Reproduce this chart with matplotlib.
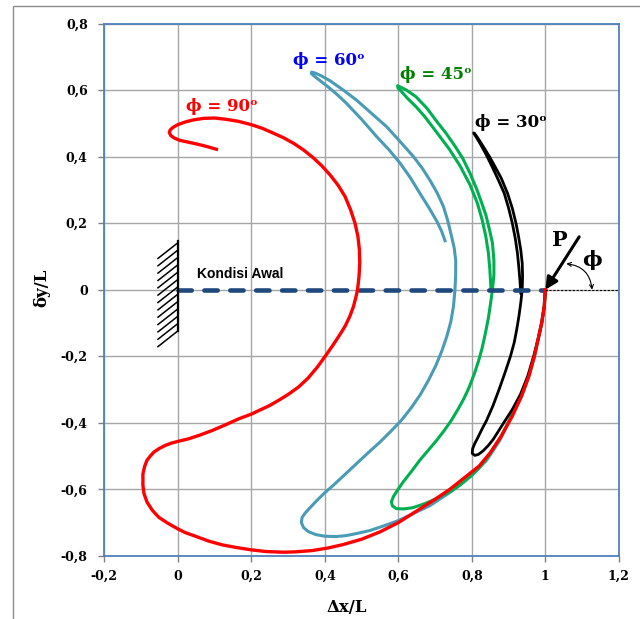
import numpy as np
import matplotlib.pyplot as plt
from matplotlib.patches import Rectangle

# Dados (posição da ponta da viga, dx/L e dy/L)

x_90 = [1.000, 0.997, 0.990, 0.980, 0.970, 0.955, 0.935, 0.910, 0.880, 0.850, 0.820, 0.780,
        0.740, 0.700, 0.650, 0.600, 0.550, 0.500, 0.450, 0.410, 0.366, 0.320, 0.285, 0.240,
        0.200, 0.160, 0.121, 0.085, 0.048, 0.020, 0.000, -0.027, -0.052, -0.070, -0.084, -0.092,
        -0.095, -0.095, -0.090, -0.084, -0.075, -0.065, -0.050, -0.034, -0.017, 0.000, 0.030, 0.060,
        0.094, 0.130, 0.166, 0.200, 0.221, 0.250, 0.275, 0.300, 0.329, 0.355, 0.380, 0.401,
        0.420, 0.438, 0.455, 0.468, 0.478, 0.485, 0.489, 0.493, 0.495, 0.494, 0.490, 0.482,
        0.470, 0.455, 0.436, 0.415, 0.392, 0.368, 0.342, 0.315, 0.287, 0.259, 0.230, 0.200,
        0.165, 0.132, 0.100, 0.070, 0.041, 0.020, 0.000, -0.013, -0.021, -0.023, -0.019, -0.010,
        0.005, 0.030, 0.055, 0.080, 0.105]
y_90 = [0.000, -0.050, -0.100, -0.150, -0.200, -0.260, -0.320, -0.380, -0.440, -0.490, -0.530, -0.565,
        -0.600, -0.630, -0.665, -0.700, -0.728, -0.750, -0.766, -0.776, -0.784, -0.788, -0.789, -0.787,
        -0.782, -0.775, -0.767, -0.756, -0.741, -0.730, -0.719, -0.702, -0.684, -0.662, -0.638, -0.613,
        -0.588, -0.553, -0.530, -0.513, -0.500, -0.488, -0.477, -0.468, -0.461, -0.456, -0.448, -0.437,
        -0.423, -0.406, -0.388, -0.374, -0.363, -0.348, -0.332, -0.315, -0.292, -0.265, -0.232, -0.200,
        -0.170, -0.140, -0.110, -0.080, -0.050, -0.020, 0.000, 0.040, 0.080, 0.120, 0.160, 0.200,
        0.240, 0.280, 0.314, 0.344, 0.372, 0.397, 0.420, 0.440, 0.457, 0.471, 0.485, 0.496,
        0.506, 0.512, 0.516, 0.515, 0.510, 0.504, 0.496, 0.488, 0.480, 0.472, 0.463, 0.456,
        0.449, 0.443, 0.437, 0.430, 0.422]

x_60 = [1.000, 0.997, 0.990, 0.980, 0.970, 0.955, 0.935, 0.910, 0.876, 0.840, 0.800, 0.749,
        0.686, 0.600, 0.560, 0.522, 0.490, 0.459, 0.430, 0.400, 0.375, 0.355, 0.342, 0.336,
        0.338, 0.346, 0.360, 0.377, 0.400, 0.423, 0.455, 0.486, 0.518, 0.550, 0.580, 0.608,
        0.635, 0.660, 0.682, 0.702, 0.718, 0.732, 0.743, 0.750, 0.754, 0.756, 0.756, 0.752,
        0.745, 0.735, 0.723, 0.706, 0.686, 0.665, 0.641, 0.605, 0.568, 0.527, 0.486, 0.450,
        0.414, 0.390, 0.374, 0.364, 0.363, 0.370, 0.385, 0.405, 0.430, 0.459, 0.500, 0.541,
        0.575, 0.605, 0.633, 0.659, 0.684, 0.705, 0.718, 0.727]
y_60 = [0.000, -0.050, -0.100, -0.150, -0.200, -0.260, -0.320, -0.375, -0.453, -0.513, -0.558, -0.603,
        -0.649, -0.694, -0.710, -0.724, -0.732, -0.739, -0.742, -0.741, -0.736, -0.727, -0.715, -0.700,
        -0.685, -0.672, -0.655, -0.635, -0.610, -0.588, -0.555, -0.523, -0.490, -0.458, -0.425, -0.393,
        -0.355, -0.315, -0.272, -0.228, -0.185, -0.140, -0.095, -0.050, 0.000, 0.045, 0.088, 0.125,
        0.159, 0.205, 0.249, 0.290, 0.329, 0.365, 0.400, 0.445, 0.490, 0.530, 0.570, 0.600,
        0.628, 0.643, 0.651, 0.654, 0.650, 0.643, 0.630, 0.613, 0.590, 0.560, 0.512, 0.460,
        0.420, 0.380, 0.336, 0.289, 0.245, 0.205, 0.175, 0.147]

x_45 = [1.000, 0.997, 0.990, 0.980, 0.970, 0.955, 0.935, 0.910, 0.880, 0.852, 0.822, 0.795,
        0.767, 0.735, 0.704, 0.672, 0.640, 0.615, 0.595, 0.584, 0.581, 0.586, 0.598, 0.613,
        0.635, 0.658, 0.681, 0.704, 0.725, 0.744, 0.762, 0.778, 0.792, 0.806, 0.818, 0.828,
        0.837, 0.845, 0.851, 0.856, 0.860, 0.860, 0.856, 0.848, 0.838, 0.827, 0.814, 0.795,
        0.775, 0.755, 0.730, 0.705, 0.678, 0.648, 0.622, 0.606, 0.598, 0.599, 0.609, 0.625,
        0.648, 0.672, 0.705, 0.739, 0.769, 0.795, 0.815, 0.828, 0.838, 0.845, 0.849, 0.851,
        0.852]
y_45 = [0.000, -0.050, -0.100, -0.150, -0.200, -0.260, -0.320, -0.375, -0.440, -0.490, -0.533, -0.562,
        -0.588, -0.610, -0.628, -0.643, -0.655, -0.659, -0.658, -0.650, -0.638, -0.623, -0.602, -0.578,
        -0.547, -0.513, -0.483, -0.453, -0.423, -0.393, -0.360, -0.328, -0.295, -0.255, -0.215, -0.175,
        -0.130, -0.085, -0.040, 0.000, 0.045, 0.088, 0.140, 0.180, 0.225, 0.260, 0.300, 0.350,
        0.395, 0.430, 0.470, 0.505, 0.545, 0.580, 0.600, 0.609, 0.613, 0.606, 0.595, 0.575,
        0.550, 0.520, 0.472, 0.422, 0.370, 0.315, 0.260, 0.210, 0.160, 0.110, 0.060, 0.020,
        0.000]

x_30 = [1.000, 0.997, 0.990, 0.980, 0.968, 0.952, 0.932, 0.910, 0.885, 0.858, 0.845, 0.831,
        0.818, 0.808, 0.801, 0.802, 0.808, 0.817, 0.828, 0.840, 0.857, 0.874, 0.890, 0.905,
        0.915, 0.922, 0.928, 0.933, 0.937, 0.938, 0.937, 0.933, 0.927, 0.920, 0.910, 0.897,
        0.880, 0.863, 0.848, 0.830, 0.815, 0.807, 0.805, 0.810, 0.822, 0.838, 0.855, 0.872,
        0.888, 0.900, 0.910, 0.918, 0.924, 0.928, 0.931, 0.933]
y_30 = [0.000, -0.050, -0.100, -0.150, -0.200, -0.260, -0.315, -0.360, -0.403, -0.450, -0.468, -0.484,
        -0.495, -0.498, -0.492, -0.478, -0.462, -0.443, -0.418, -0.393, -0.350, -0.300, -0.250, -0.200,
        -0.160, -0.120, -0.080, -0.040, 0.000, 0.040, 0.080, 0.120, 0.160, 0.200, 0.245, 0.290,
        0.335, 0.370, 0.400, 0.432, 0.458, 0.470, 0.471, 0.462, 0.440, 0.408, 0.370, 0.330,
        0.290, 0.245, 0.200, 0.155, 0.110, 0.065, 0.025, -0.010]

x_awal = [0.0, 1.0]
y_awal = [0.0, 0.0]

xticks = [-0.2, 0, 0.2, 0.4, 0.6, 0.8, 1.0, 1.2]
xtick_labels = ['-0,2', '0', '0,2', '0,4', '0,6', '0,8', '1', '1,2']
yticks = [-0.8, -0.6, -0.4, -0.2, 0, 0.2, 0.4, 0.6, 0.8]
ytick_labels = ['-0,8', '-0,6', '-0,4', '-0,2', '0', '0,2', '0,4', '0,6', '0,8']

serif = ['DejaVu Serif']

fig = plt.figure(figsize=(6.4, 6.19), dpi=100)
ax = fig.add_axes([0.163, 0.102, 0.804, 0.860])

# moldura externa (cortada à direita e embaixo)
fig.add_artist(Rectangle((12.7/640, -0.05), 1.0, 1.0403, transform=fig.transFigure,
                         fill=False, edgecolor='#8c8c8c', lw=1.0))

ax.plot(x_60, y_60, c='#4a9bb5', lw=2.2, zorder=3)
ax.plot(x_45, y_45, c='#00b050', lw=2.2, zorder=3.1)
ax.plot(x_30, y_30, c='k', lw=2.0, zorder=3.2)
ax.plot(x_awal, y_awal, c='#1f497d', lw=3.3, ls=(0, (2.9, 2.75)), dash_capstyle='round', zorder=3.3)
ax.plot(x_90, y_90, c='#ff0000', lw=2.4, zorder=3.4)

# engaste (parede hachurada)
ax.plot([0, 0], [-0.124, 0.145], c='k', lw=1.6, zorder=4)
for yt in np.linspace(0.141, -0.124, 13):
    ax.plot([-0.054, 0], [yt - 0.047, yt], c='k', lw=1.1, zorder=4)

ax.text(0.052, 0.035, 'Kondisi Awal', family='Liberation Sans', fontweight='bold', fontsize=10)

# rótulos das curvas
ax.text(0.022, 0.55, 'ϕ = 90ᵒ', color='#ff0000', family=serif, fontweight='bold', fontsize=12, va='center')
ax.text(0.313, 0.69, 'ϕ = 60ᵒ', color='#0000ff', family=serif, fontweight='bold', fontsize=12, va='center')
ax.text(0.604, 0.648, 'ϕ = 45ᵒ', color='#008000', family=serif, fontweight='bold', fontsize=12, va='center')
ax.text(0.808, 0.502, 'ϕ = 30ᵒ', color='k', family=serif, fontweight='bold', fontsize=12, va='center')

# força P e ângulo
ax.annotate('', xy=(1.0, 0.0), xytext=(1.092, 0.159),
            arrowprops=dict(arrowstyle='-|>', lw=2.2, color='k', mutation_scale=18, shrinkA=0, shrinkB=0),
            zorder=5)
ax.plot([1.0, 1.2], [0, 0], c='k', lw=0.8, ls=(0, (2, 1.5)), zorder=5)
ax.annotate('', xy=(1.127, 0.0), xytext=(1.057, 0.078),
            arrowprops=dict(arrowstyle='<->', lw=0.8, color='k', connectionstyle='arc3,rad=-0.4',
                            shrinkA=0, shrinkB=0, mutation_scale=7))
ax.text(1.04, 0.149, 'P', family=serif, fontweight='bold', fontsize=15, ha='center', va='center')
ax.text(1.127, 0.089, 'ϕ', family=serif, fontweight='bold', fontsize=15, ha='center', va='center')

ax.set_xlim(-0.2, 1.2)
ax.set_ylim(-0.8, 0.8)
ax.set_xticks(xticks)
ax.set_xticklabels(xtick_labels, family=serif, fontweight='bold', fontsize=9)
ax.set_yticks(yticks)
ax.set_yticklabels(ytick_labels, family=serif, fontweight='bold', fontsize=9)
ax.tick_params(length=4, color='#808080', width=1.0)
ax.tick_params(axis='y', pad=8)
ax.tick_params(axis='x', pad=6)
ax.grid(True, color='#a6a6a6', lw=1.0)
ax.set_axisbelow(True)
for s in ax.spines.values():
    s.set_color('#4f81bd')
    s.set_linewidth(1.3)

fig.text(0.542, 0.019, 'Δx/L', family=serif, fontweight='bold', fontsize=12, ha='center', va='center')
fig.text(0.065, 0.535, 'δy/L', family=serif, fontweight='bold', fontsize=12, ha='center', va='center',
         rotation=90)

plt.savefig('out.png', dpi=100)
plt.close()
